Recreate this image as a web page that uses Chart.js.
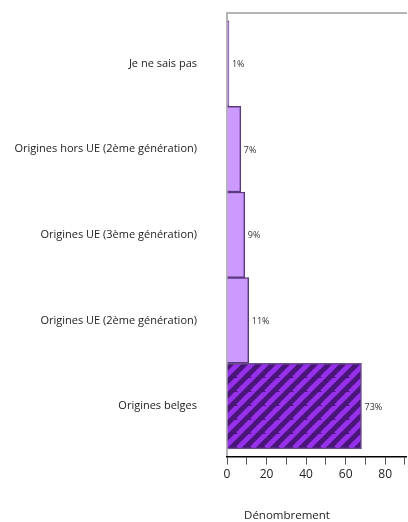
<!DOCTYPE html>
<html>
<head>
<meta charset="utf-8">
<script src="https://cdn.jsdelivr.net/npm/chart.js@4.4.0/dist/chart.umd.min.js"></script>
<style>
    html, body { margin: 0; padding: 0; background: #fff; }
    canvas { display: block; }
</style>
</head>
<body>
<canvas id="ChartOrigines" width="408" height="522"></canvas>
<script>
const categories = [
    'Je ne sais pas',
    'Origines hors UE (2ème génération)',
    'Origines UE (3ème génération)',
    'Origines UE (2ème génération)',
    'Origines belges'
];
const counts = [1, 7, 9, 11, 68];
const percentLabels = ['1%', '7%', '9%', '11%', '73%'];
const xTickLabels = [0, 20, 40, 60, 80];
const xTitle = 'Dénombrement';

const FONT = '"Open Sans", "DejaVu Sans", sans-serif';

// striped fill for the biggest bar
const makeStripes = () => {
    const s = 14;
    const tile = document.createElement('canvas');
    tile.width = s;
    tile.height = s;
    const c = tile.getContext('2d');
    c.fillStyle = '#4a1579';
    c.fillRect(0, 0, s, s);
    c.strokeStyle = '#9630ea';
    c.lineWidth = s / (2 * Math.SQRT2);
    for (let k = -1; k <= 2; k++) {
        const o = k * s;
        c.beginPath();
        c.moveTo(o + s, -s);
        c.lineTo(o - s, s);
        c.stroke();
    }
    return c.createPattern(tile, 'repeat');
};

const stripes = makeStripes();

const percentPlugin = {
    id: 'percentLabels',
    afterDatasetsDraw(chart) {
        const ctx = chart.ctx;
        const meta = chart.getDatasetMeta(0);
        ctx.save();
        ctx.font = '9px ' + FONT;
        ctx.fillStyle = '#333';
        ctx.textAlign = 'left';
        ctx.textBaseline = 'middle';
        meta.data.forEach((bar, i) => {
            ctx.fillText(percentLabels[i], bar.x + 3, bar.y + 1);
        });
        ctx.restore();
    }
};

const titlePlugin = {
    id: 'xTitle',
    afterDraw(chart) {
        const ctx = chart.ctx;
        const area = chart.chartArea;
        ctx.save();
        ctx.font = '11.5px ' + FONT;
        ctx.fillStyle = '#222';
        ctx.textAlign = 'center';
        ctx.textBaseline = 'middle';
        ctx.fillText(xTitle, area.left + (area.right - area.left) / 3, 516);
        ctx.restore();
    }
};

const data = {
    datasets: [{
        data: counts.map((v, i) => ({ x: v, y: i })),
        backgroundColor: counts.map((v, i) => i === counts.length - 1 ? stripes : '#cc99ff'),
        borderColor: counts.map((v, i) => i === counts.length - 1 ? '#6a4d8c' : '#5c3a80'),
        borderWidth: 1.5,
        barPercentage: 1,
        categoryPercentage: 1
    }]
};

const config = {
    type: 'bar',
    data: data,
    options: {
        indexAxis: 'y',
        responsive: false,
        animation: false,
        layout: {
            padding: { top: 13, right: 0, bottom: 37, left: 0 }
        },
        plugins: {
            legend: { display: false },
            tooltip: { enabled: false }
        },
        scales: {
            y: {
                type: 'linear',
                reverse: true,
                offset: false,
                min: -0.59,
                max: 4.59,
                afterFit: (scale) => {
                    scale.width = 227;
                    scale.paddingTop = 0;
                    scale.paddingBottom = 0;
                },
                grid: { display: false },
                border: { color: '#b4b4b4', width: 2 },
                ticks: {
                    stepSize: 1,
                    includeBounds: false,
                    autoSkip: false,
                    padding: 22,
                    color: '#222',
                    font: { family: FONT, size: 11 },
                    callback: (v) => Number.isInteger(v) && categories[v] ? categories[v] : ''
                }
            },
            x: {
                type: 'linear',
                position: 'bottom',
                min: 0,
                max: 91,
                grid: {
                    drawOnChartArea: false,
                    drawTicks: true,
                    tickLength: 8,
                    color: '#555'
                },
                border: { color: '#000', width: 1.5 },
                ticks: {
                    stepSize: 10,
                    includeBounds: false,
                    autoSkip: false,
                    maxRotation: 0,
                    padding: 3,
                    color: '#222',
                    font: { family: FONT, size: 12 },
                    callback: (v) => xTickLabels.includes(v) ? v : ''
                }
            },
            x2: {
                type: 'linear',
                position: 'top',
                grid: { display: false, drawTicks: false },
                border: { color: '#b4b4b4', width: 2 },
                ticks: { display: false }
            }
        }
    },
    plugins: [percentPlugin, titlePlugin]
};

const myChart = new Chart(
    document.getElementById('ChartOrigines'),
    config
);
</script>
</body>
</html>
